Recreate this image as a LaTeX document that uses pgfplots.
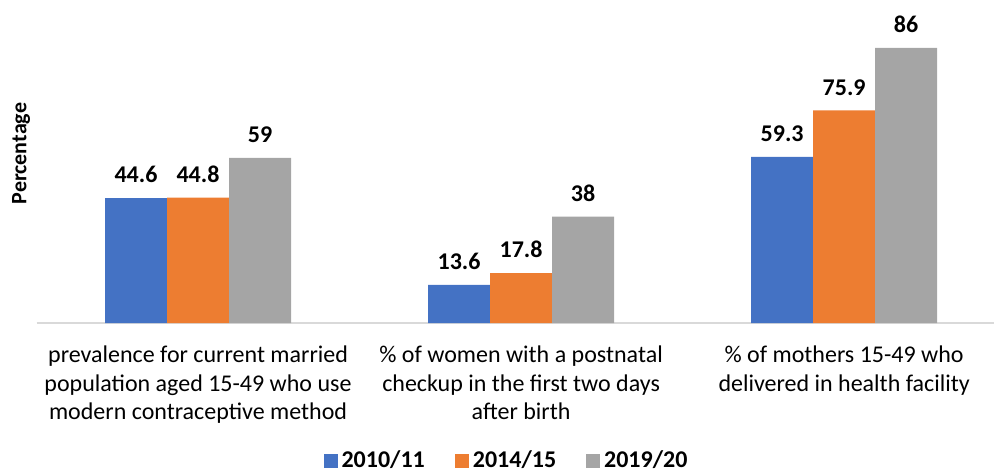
\documentclass[border=0pt]{standalone}
\usepackage{pgfplots}
\pgfplotsset{compat=1.18}
\usepackage{fontspec}
\setmainfont{Carlito}
\definecolor{cblue}{HTML}{4472C4}
\definecolor{corange}{HTML}{ED7D31}
\definecolor{cgray}{HTML}{A5A5A5}
\definecolor{axgray}{HTML}{D9D9D9}
\begin{document}
\begin{tikzpicture}
\useasboundingbox (0,0) rectangle (497pt,236pt);
\begin{axis}[
  at={(18.25pt,74.5pt)}, anchor=south west,
  scale only axis, width=478.75pt, height=161.5pt,
  ymin=0, ymax=115.36, xmin=-0.5, xmax=2.464,
  ybar=0pt, bar width=31pt,
  axis x line=bottom, axis y line=none,
  x axis line style={-, draw=axgray, line width=0.8pt},
  xtick={0,1,2}, major tick length=0pt, ytick=\empty,
  xticklabels={{prevalence for current married\\population aged 15-49 who use\\modern contraceptive method},{\% of women with a postnatal\\checkup in the first two days\\after birth},{\% of mothers 15-49 who\\delivered in health facility}},
  xticklabel style={align=center, anchor=north, yshift=-8pt, font=\fontsize{12}{14.2}\selectfont},
  point meta=explicit symbolic,
  nodes near coords,
  every node near coord/.append style={font=\bfseries\fontsize{12}{14}\selectfont, yshift=4pt},
  legend columns=3,
  legend style={draw=none, at={(0.4919,-0.4272)}, anchor=center, font=\bfseries\fontsize{12}{14}\selectfont,
    /tikz/every even column/.append style={column sep=13pt}},
  legend image code/.code={\fill[#1] (0pt,-3.5pt) rectangle (7pt,3.5pt);},
]
\addplot[fill=cblue, draw=none] coordinates {(0,44.6) [44.6] (1,13.6) [13.6] (2,59.3) [59.3]};
\addplot[fill=corange, draw=none] coordinates {(0,44.8) [44.8] (1,17.8) [17.8] (2,75.9) [75.9]};
\addplot[fill=cgray, draw=none] coordinates {(0,59) [59] (1,38) [38] (2,98.3) [86]};
\legend{2010/11,2014/15,2019/20}
\end{axis}
\node[rotate=90, font=\bfseries\fontsize{11}{13}\selectfont] at (10.5pt,159.25pt) {Percentage};
\end{tikzpicture}
\end{document}
